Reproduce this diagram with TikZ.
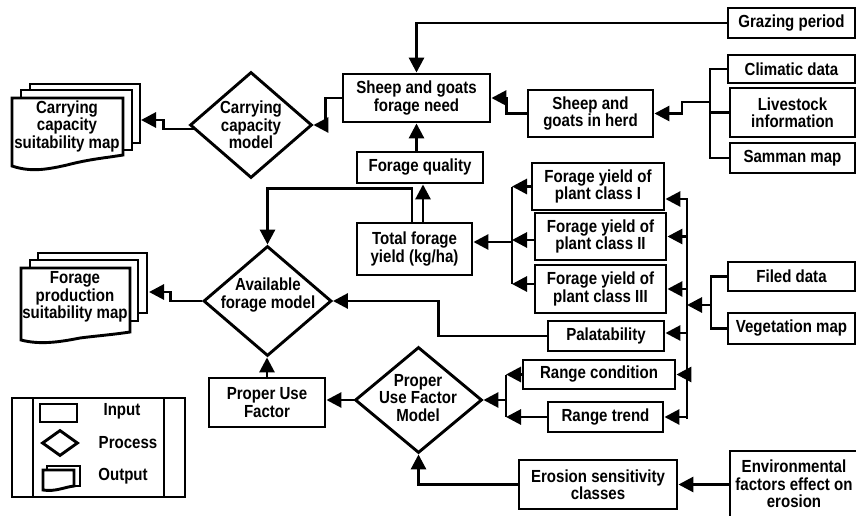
\documentclass[tikz,border=0pt]{standalone}
\usepackage{fontspec}
\setmainfont{Liberation Sans}[FakeStretch=0.86]
\usetikzlibrary{shapes.geometric,arrows.meta,calc}
\begin{document}
\begin{tikzpicture}[x=1pt,y=-1pt,
  lw/.style={line width=2.9pt},
  box/.style={draw,lw,fill=white,rectangle,inner sep=0pt,align=center,font=\bfseries\fontsize{17.5}{17.5}\selectfont},
  dia/.style={draw,lw,fill=white,diamond,inner sep=0pt},
  txt/.style={inner sep=0pt,align=center,font=\bfseries\fontsize{17.5}{17.5}\selectfont},
  arr/.style={lw,-{Triangle[length=15pt,width=15pt]}},
  con/.style={lw},
  doc/.style={draw,lw,fill=white}]
\useasboundingbox (0,0) rectangle (856,516);

% ---------- boxes ----------
\node[box,minimum width=127pt,minimum height=30pt] (graz) at (791.5,23) {Grazing period};
\node[box,minimum width=147pt,minimum height=48pt] (sheep) at (416.5,98) {Sheep and goats\\forage need};
\node[box,minimum width=125pt,minimum height=47pt] (herd) at (590.5,113.5) {Sheep and\\goats in herd};
\node[box,minimum width=127pt,minimum height=28pt] (clim) at (791.5,69) {Climatic data};
\node[box,minimum width=125pt,minimum height=49pt] (live) at (792.5,112.5) {Livestock\\information};
\node[box,minimum width=125pt,minimum height=30pt] (samman) at (792.5,158) {Samman map};
\node[box,minimum width=126pt,minimum height=31pt] (fq) at (420,167.5) {Forage quality};
\node[box,minimum width=115pt,minimum height=52pt] (tfy) at (414.5,249) {Total forage\\yield (kg/ha)};
\node[box,minimum width=132pt,minimum height=47pt] (fy1) at (598,186.5) {Forage yield of\\plant class I};
\node[box,minimum width=131pt,minimum height=47pt] (fy2) at (600.5,236.5) {Forage yield of\\plant class II};
\node[box,minimum width=131pt,minimum height=48pt] (fy3) at (600.5,289) {Forage yield of\\plant class III};
\node[box,minimum width=116pt,minimum height=30pt] (pal) at (606,336) {Palatability};
\node[box,minimum width=152pt,minimum height=29pt] (rc) at (599,374.5) {Range condition};
\node[box,minimum width=115pt,minimum height=30pt] (rt) at (605.5,417) {Range trend};
\node[box,minimum width=127pt,minimum height=29pt] (filed) at (791.5,276.5) {Filed data};
\node[box,minimum width=127pt,minimum height=31pt] (veg) at (791.5,328.5) {Vegetation map};
\node[box,minimum width=158pt,minimum height=49pt] (ero) at (598,484.5) {Erosion sensitivity\\classes};
\node[box,minimum width=128pt,minimum height=66pt] (env) at (794,484) {Environmental\\factors effect on\\erosion};
\node[box,minimum width=116pt,minimum height=49pt] (puf) at (267,402.5) {Proper Use\\Factor};

% ---------- diamonds ----------
\node[dia,minimum width=122pt,minimum height=106pt] (ccm) at (251,125) {};
\node[txt] at (251,125) {Carrying\\capacity\\model};
\node[dia,minimum width=128pt,minimum height=110pt] (afm) at (267.5,301) {};
\node[txt] at (268,295) {Available\\forage model};
\node[dia,minimum width=127pt,minimum height=106pt] (pufm) at (418.5,400) {};
\node[txt] at (418,398) {Proper\\Use Factor\\Model};

% ---------- output maps ----------
\draw[doc] (30,84) rectangle (140,143);
\draw[doc] (21,90) rectangle (132,150);
\draw[doc] (12,98) -- (123,98) -- (123,155) .. controls (105,158) and (90,159) .. (67,165)
  .. controls (45,170) and (30,172) .. (12,166) -- cycle;
\node[txt] (map1) at (67,126) {Carrying\\capacity\\suitability map};
\coordinate (m1) at (141,120);

\draw[doc] (38,253) rectangle (147,313);
\draw[doc] (30,260) rectangle (138,321);
\draw[doc] (21,268) -- (130,268) -- (130,332) .. controls (110,335) and (95,336) .. (80,338)
  .. controls (60,342) and (40,345) .. (21,340) -- cycle;
\node[txt] (map2) at (75,297) {Forage\\production\\suitability map};
\coordinate (m2) at (149,292);

% ---------- connectors ----------
\draw[arr] (graz.west) -| (sheep.north);
\draw[arr] (fq.north -| sheep.south) -- (sheep.south);
\draw[arr] ([xshift=8.5pt]tfy.north) -- ([xshift=8.5pt]tfy.north |- fq.south);
\draw[arr] ([xshift=-2.5pt]tfy.north) -- ++(0,-33) -| (afm.north);
\draw[arr] (herd.west) -- ++(-20,0) |- (sheep.east);

\coordinate (jr) at (710,102);
\draw[con] (clim.west) -- (clim.west -| jr) -- (samman.west -| jr) -- (samman.west);
\draw[con] (live.west) -- (live.west -| jr);
\draw[arr] (jr) -- ++(-28,0) |- (herd.east);

\draw[arr] (sheep.west) -- ++(-16,0) |- (ccm.east);
\draw[arr] ([xshift=5pt,yshift=-4pt]ccm.west) -- ++(-30,0) |- (m1);
\draw[arr] (afm.west) -- ++(-32,0) |- (m2);

\coordinate (jl) at (512,242);
\draw[con] (fy1.west -| jl) -- ([yshift=5pt]fy3.west -| jl);
\draw[arr] (fy1.west) -- (fy1.west -| jl);
\draw[arr] ([yshift=-3.5pt]fy2.west) -- ([yshift=-3.5pt]fy2.west -| jl);
\draw[arr] ([yshift=5pt]fy3.west) -- ([yshift=5pt]fy3.west -| jl);
\draw[arr] (jl) -- (jl -| tfy.east);

\coordinate (jm) at (687,305);
\coordinate (jmt) at (687,199);
\coordinate (jmb) at (687,419);
\draw[arr] (jmb) -- (jmt) -- (jmt -| fy1.east);
\draw[arr] (fy2.east -| jm) -- (fy2.east);
\draw[arr] (fy3.east -| jm) -- (fy3.east);
\draw[arr] ([yshift=3pt]pal.east -| jm) -- ([yshift=3pt]pal.east);
\draw[arr] (rc.east -| jm) -- (rc.east);
\draw[arr] (rt.east -| jm) -- (rt.east);

\coordinate (jv) at (711,305);
\draw[con] (filed.west) -- (filed.west -| jv) -- (veg.west -| jv) -- (veg.west);
\draw[arr] (jv) -- (jm);

\draw[arr] (pal.west) -- ++(-108,0) |- (afm.east);

\coordinate (jb) at (506,400);
\draw[con] (rc.west -| jb) -- (rt.west -| jb);
\draw[arr] (rc.west) -- (rc.west -| jb);
\draw[arr] (rt.west) -- (rt.west -| jb);
\draw[arr] (jb) -- (pufm.east);

\draw[arr] (ero.west) -| (pufm.south);
\draw[arr] (env.west |- ero.east) -- (ero.east);
\draw[arr] (pufm.west) -- (pufm.west -| puf.east);
\draw[arr] (puf.north) -- (puf.north |- afm.south);

% ---------- legend ----------
\draw[doc] (12,398) rectangle (185,497);
\draw[con] (33,398) -- (33,497);
\draw[con] (164,398) -- (164,497);
\node[box,minimum width=37pt,minimum height=18pt] (lin) at (58.5,413) {};
\node[txt] (lint) at (122,411) {Input};
\node[dia,minimum width=36pt,minimum height=26pt] (lpr) at (60,443) {};
\node[txt] (lprt) at (128,443) {Process};
\draw[doc] (47,466) rectangle (80,486);
\draw[doc] (43,470) -- (74,470) -- (74,486) .. controls (65,487) and (55,492) .. (43,490) -- cycle;
\node[txt] (loutt) at (123,476) {Output};
\end{tikzpicture}
\end{document}
